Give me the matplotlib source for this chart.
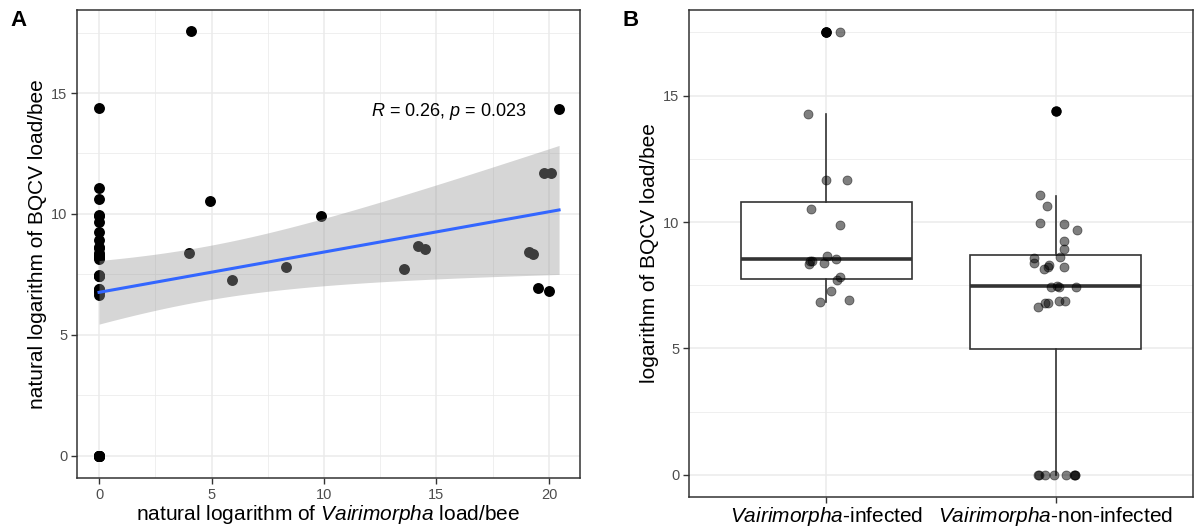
import numpy as np
import matplotlib.pyplot as plt
from matplotlib.ticker import MultipleLocator

plt.rcParams["font.family"] = "Liberation Sans"
plt.rcParams["mathtext.fontset"] = "custom"
plt.rcParams["mathtext.rm"] = "Liberation Sans"
plt.rcParams["mathtext.it"] = "Liberation Sans:italic"

# BQCV load (log) in bees without Vairimorpha, x offsets = jitter
noninf_bqcv = [0, 0, 0, 0, 0, 0, 0, 0,
               6.64, 6.80, 6.78, 6.88, 6.88, 7.45, 7.47, 7.45, 7.45,
               8.15, 8.22, 8.22, 8.31, 8.38, 8.58, 8.63, 8.93, 9.26, 9.68,
               9.92, 9.96, 10.63, 11.07, 14.39]
noninf_jit = [-0.078, -0.072, -0.045, -0.006, 0.046, 0.082, 0.086, 0.084,
              -0.077, -0.047, -0.033, 0.017, 0.042, -0.020, 0.006, 0.013, 0.090,
              -0.049, -0.035, 0.035, -0.027, -0.096, -0.093, 0.020, 0.039, 0.039, 0.093,
              0.038, -0.067, -0.038, -0.070, 0.0]

# infected bees: Vairimorpha load vs BQCV load (panel A)
inf_vai = [4.09, 4.93, 9.87, 4.00, 5.91, 8.31, 13.56, 14.20, 14.50,
           19.10, 19.30, 19.50, 20.00, 19.80, 20.10, 20.45]
inf_bqcv_a = [17.56, 10.54, 9.92, 8.39, 7.27, 7.81, 7.73, 8.68, 8.55,
              8.43, 8.35, 6.94, 6.82, 11.69, 11.69, 14.34]

# infected bees in panel B (jittered)
inf_bqcv = [17.51, 17.51, 14.28, 11.66, 11.66, 10.50, 9.90, 8.64, 8.46, 8.46,
            8.33, 8.38, 8.55, 7.81, 7.70, 7.26, 6.93, 6.83]
inf_jit = [-0.001, 0.060, -0.080, 0.0, 0.091, -0.067, 0.060, 0.001, -0.070, -0.065,
           -0.078, -0.012, 0.042, 0.057, 0.048, 0.022, 0.099, -0.027]

# box statistics
groups = ["Vairimorpha-infected", "Vairimorpha-non-infected"]
box_q1 = [7.76, 4.97]
box_med = [8.53, 7.48]
box_q3 = [10.79, 8.70]
box_lo = [6.83, 0.0]
box_hi = [14.28, 11.04]
box_out = [[17.51, 17.51], [14.39]]

T_CRIT = 2.013  # t(0.975, df=46)

GRID = "#EBEBEB"
BORDER = "#333333"
TICKC = "#4D4D4D"

fig = plt.figure(figsize=(11.94, 5.29), dpi=100)
axA = fig.add_axes([77 / 1194, 1 - 478 / 529, 503 / 1194, 468 / 529])
axB = fig.add_axes([689 / 1194, 1 - 497 / 529, 504 / 1194, 487 / 529])


def style(ax):
    for s in ax.spines.values():
        s.set_color(BORDER)
        s.set_linewidth(1.1)
    ax.tick_params(axis="both", which="major", length=4, width=1.0, color=BORDER,
                   labelcolor=TICKC, labelsize=10.5, pad=3)
    ax.tick_params(axis="both", which="minor", length=0)
    ax.grid(True, which="major", color=GRID, lw=1.1, zorder=0)
    ax.grid(True, which="minor", color=GRID, lw=0.55, zorder=0)
    ax.set_axisbelow(True)


# ---------- Panel A ----------
xa = np.array([0.0] * len(noninf_bqcv) + inf_vai)
ya = np.array(noninf_bqcv + inf_bqcv_a)
axA.scatter(xa, ya, s=62, color="black", lw=0, zorder=2)

b, a = np.polyfit(xa, ya, 1)
n = len(xa)
resid = ya - (a + b * xa)
s_err = np.sqrt(np.sum(resid ** 2) / (n - 2))
sxx = np.sum((xa - xa.mean()) ** 2)
xs = np.linspace(xa.min(), xa.max(), 100)
fit = a + b * xs
half = T_CRIT * s_err * np.sqrt(1 / n + (xs - xa.mean()) ** 2 / sxx)
axA.fill_between(xs, fit - half, fit + half, color="#999999", alpha=0.4, lw=0, zorder=3)
axA.plot(xs, fit, color="#3366FF", lw=2.2, zorder=4)

axA.text(12.1, 14.25, "$R$ = 0.26, $p$ = 0.023", fontsize=13, ha="left", va="center")

axA.set_xlim(-0.98, 21.38)
axA.set_ylim(-0.91, 18.43)
axA.xaxis.set_major_locator(MultipleLocator(5))
axA.xaxis.set_minor_locator(MultipleLocator(2.5))
axA.yaxis.set_major_locator(MultipleLocator(5))
axA.yaxis.set_minor_locator(MultipleLocator(2.5))
style(axA)
axA.set_xlabel("natural logarithm of $\\mathit{Vairimorpha}$ load/bee", fontsize=15, labelpad=1)
axA.set_ylabel("natural logarithm of BQCV load/bee", fontsize=15, labelpad=3)

# ---------- Panel B ----------
stats = []
for i in range(2):
    stats.append(dict(q1=box_q1[i], med=box_med[i], q3=box_q3[i],
                      whislo=box_lo[i], whishi=box_hi[i], fliers=box_out[i]))
axB.bxp(stats, positions=[1, 2], widths=0.75, showcaps=False, patch_artist=True,
        boxprops=dict(facecolor="white", edgecolor=BORDER, lw=1.2),
        whiskerprops=dict(color=BORDER, lw=1.2),
        medianprops=dict(color=BORDER, lw=2.6),
        flierprops=dict(marker="o", markerfacecolor="black", markeredgecolor="black",
                        markersize=6.5),
        zorder=2)

xb_inf = 1 + np.array(inf_jit)
xb_non = 2 + np.array(noninf_jit)
axB.scatter(xb_inf, inf_bqcv, s=42, color="black", alpha=0.5, lw=0.6, zorder=3)
axB.scatter(xb_non, noninf_bqcv, s=42, color="black", alpha=0.5, lw=0.6, zorder=3)

axB.set_xlim(0.4, 2.6)
axB.set_ylim(-0.875, 18.39)
axB.set_xticks([1, 2])
axB.set_xticklabels(["$\\mathit{Vairimorpha}$-infected", "$\\mathit{Vairimorpha}$-non-infected"])
axB.yaxis.set_major_locator(MultipleLocator(5))
axB.yaxis.set_minor_locator(MultipleLocator(2.5))
style(axB)
axB.tick_params(axis="x", labelsize=15, labelcolor="black", pad=2)
axB.set_ylabel("logarithm of BQCV load/bee", fontsize=15, labelpad=3)

fig.text(10 / 1194, 1 - 20 / 529, "A", fontsize=16, fontweight="bold", va="center")
fig.text(622 / 1194, 1 - 20 / 529, "B", fontsize=16, fontweight="bold", va="center")

plt.savefig("out.png", dpi=100)
plt.close()
